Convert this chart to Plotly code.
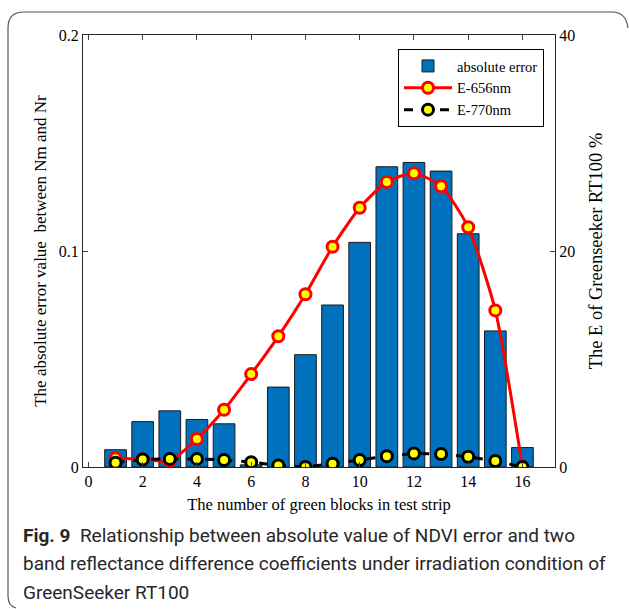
import plotly.graph_objects as go

blocks = list(range(1, 17))
abs_error = [0.008, 0.021, 0.026, 0.022, 0.020, 0.001, 0.037, 0.052, 0.075, 0.104,
             0.139, 0.141, 0.137, 0.108, 0.063, 0.009]
e656 = [0.8, 0.72, 0.56, 2.6, 5.3, 8.6, 12.1, 16.0, 20.4, 24.0, 26.4, 27.2, 26.0, 22.2, 14.5, 0.0]
e770 = [0.4, 0.7, 0.75, 0.75, 0.65, 0.45, 0.15, 0.0, 0.3, 0.65, 1.0, 1.25, 1.2, 0.95, 0.55, 0.0]

caption_lines = [
    "<b>Fig. 9</b>  Relationship between absolute value of NDVI error and two",
    "band reflectance difference coefficients under irradiation condition of",
    "GreenSeeker RT100",
]

W, H = 629, 609
L, R, T, B = 83, 555, 35, 467
serif = "Liberation Serif"

fig = go.Figure()
fig.add_trace(go.Bar(x=blocks, y=abs_error, name="absolute error", width=0.8,
                     marker=dict(color="#0072BD", line=dict(color="#1a1a1a", width=1))))
fig.add_trace(go.Scatter(x=blocks, y=e656, name="E-656nm", yaxis="y2", mode="lines+markers",
                         line=dict(color="#ff0000", width=3, shape="spline", smoothing=0.6),
                         marker=dict(size=11, color="#ffff00", line=dict(color="#ff0000", width=3))))
fig.add_trace(go.Scatter(x=blocks, y=e770, name="E-770nm", yaxis="y2", mode="lines+markers",
                         line=dict(color="#000000", width=3, dash="dash"),
                         marker=dict(size=11, color="#ffff00", line=dict(color="#000000", width=3))))

def px(x):
    return (x - L) / (R - L)

def py(y):
    return (B - y) / (B - T)

border = (f"M {px(628)},{py(28)} Q {px(626)},{py(12)} {px(612)},{py(12)} "
          f"L {px(24)},{py(12)} Q {px(8)},{py(12)} {px(8)},{py(28)} "
          f"L {px(8)},{py(596)} Q {px(8)},{py(606)} {px(16)},{py(608)}")

annotations = []
for i, line in enumerate(caption_lines):
    annotations.append(dict(
        text=line, x=px(21), y=py(535 + 28.5 * i), xref="paper", yref="paper",
        xanchor="left", yanchor="middle", align="left", showarrow=False,
        font=dict(family="Roboto", size=19, color="#2a2627")))

fig.update_layout(
    width=W, height=H,
    margin=dict(l=L, r=W - R, t=T, b=H - B),
    plot_bgcolor="white", paper_bgcolor="white",
    showlegend=True,
    legend=dict(x=px(398), y=py(49), xanchor="left", yanchor="top",
                bgcolor="white", bordercolor="#000000", borderwidth=1,
                font=dict(family=serif, size=14.5, color="black"),
                tracegroupgap=0, itemwidth=48),
    bargap=0.2,
    xaxis=dict(range=[-0.2, 17.2], tickvals=list(range(0, 17, 2)), ticks="inside", ticklen=5,
               showline=True, linecolor="#262626", linewidth=1, mirror="ticks",
               showgrid=False, zeroline=False,
               tickfont=dict(family=serif, size=16, color="black"),
               title=dict(text="The number of green blocks in test strip",
                          font=dict(family=serif, size=16.5, color="black"), standoff=9)),
    yaxis=dict(range=[0, 0.2], tickvals=[0, 0.1, 0.2], ticktext=["0", "0.1", "0.2"],
               ticks="inside", ticklen=5, showline=True, linecolor="#262626", linewidth=1,
               showgrid=False, zeroline=False,
               tickfont=dict(family=serif, size=16, color="black"),
               title=dict(text="The absolute error value  between Nm and Nr",
                          font=dict(family=serif, size=17, color="black"), standoff=7)),
    yaxis2=dict(range=[0, 40], tickvals=[0, 20, 40], overlaying="y", side="right",
                ticks="inside", ticklen=5, showline=True, linecolor="#262626", linewidth=1,
                showgrid=False, zeroline=False,
                tickfont=dict(family=serif, size=16, color="black"),
                title=dict(text="The E of Greenseeker RT100 %",
                           font=dict(family=serif, size=18.5, color="black"), standoff=14)),
    shapes=[dict(type="path", path=border, xref="paper", yref="paper",
                 line=dict(color="#555555", width=1.2))],
    annotations=annotations,
)

fig.write_html("out.html")
